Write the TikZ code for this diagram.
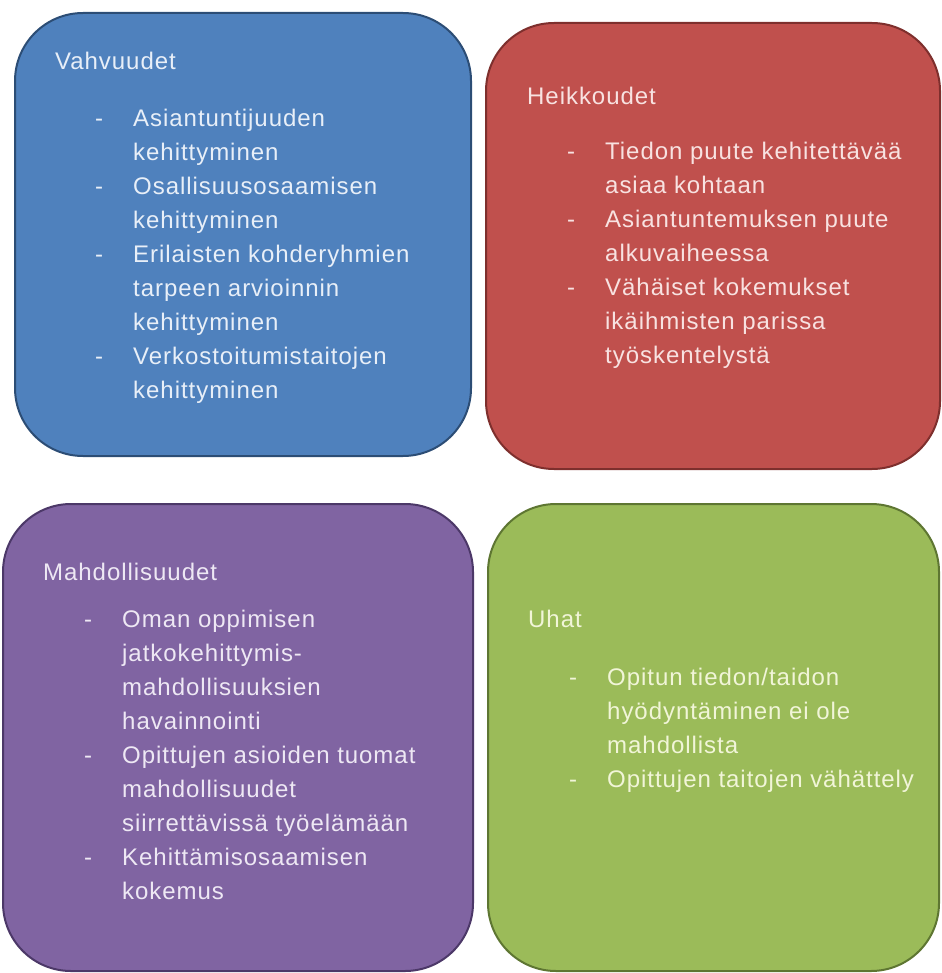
\documentclass[tikz,border=0pt]{standalone}
\usepackage{fontspec}
\setmainfont{Liberation Sans}[LetterSpace=4]

\definecolor{sfill}{HTML}{4F81BD}\definecolor{sline}{HTML}{2C4D75}\definecolor{stext}{HTML}{E8EFF8}
\definecolor{wfill}{HTML}{C0504D}\definecolor{wline}{HTML}{7E2F2D}\definecolor{wtext}{HTML}{F8E2E1}
\definecolor{ofill}{HTML}{8064A2}\definecolor{oline}{HTML}{4C3868}\definecolor{otext}{HTML}{EEE8F4}
\definecolor{tfill}{HTML}{9BBB59}\definecolor{tline}{HTML}{5E7632}\definecolor{ttext}{HTML}{F1F5D8}

% one list row with its dash, and a continued row indented to the same text column
\newcommand\dashrow[1]{\hbox{\makebox[38pt][l]{-}#1}}
\newcommand\carryrow[1]{\hbox{\hspace*{38pt}#1}}

\begin{document}
\begin{tikzpicture}[x=1pt,y=-1pt,
  quad/.style={draw, line width=2pt, rounded corners=68pt, anchor=north west,
               inner sep=0pt},
  txt/.style={anchor=base west, inner sep=0pt, font=\fontsize{24}{34}\selectfont}]

\useasboundingbox (0,0) rectangle (941,973);

% the four quadrants
\node[quad, fill=sfill, draw=sline, minimum width=456pt, minimum height=443pt]
  (strengths) at (14,12) {};
\node[quad, fill=wfill, draw=wline, minimum width=454pt, minimum height=446pt]
  (weaknesses) at (485,22) {};
\node[quad, fill=ofill, draw=oline, minimum width=470pt, minimum height=467pt]
  (opportunities) at (2,503) {};
\node[quad, fill=tfill, draw=tline, minimum width=451pt, minimum height=467pt]
  (threats) at (487,503) {};

% Vahvuudet
\node[txt, text=stext] (sTitle) at (55,70) {Vahvuudet};
\node[txt, text=stext] (sList) at (95,127) {\vtop{%
  \dashrow{Asiantuntijuuden}\carryrow{kehittyminen}%
  \dashrow{Osallisuusosaamisen}\carryrow{kehittyminen}%
  \dashrow{Erilaisten kohderyhmien}\carryrow{tarpeen arvioinnin}\carryrow{kehittyminen}%
  \dashrow{Verkostoitumistaitojen}\carryrow{kehittyminen}}};

% Heikkoudet
\node[txt, text=wtext] (wTitle) at (527,105) {Heikkoudet};
\node[txt, text=wtext] (wList) at (567,160) {\vtop{%
  \dashrow{Tiedon puute kehitettävää}\carryrow{asiaa kohtaan}%
  \dashrow{Asiantuntemuksen puute}\carryrow{alkuvaiheessa}%
  \dashrow{Vähäiset kokemukset}\carryrow{ikäihmisten parissa}\carryrow{työskentelystä}}};

% Mahdollisuudet
\node[txt, text=otext] (oTitle) at (43,580) {Mahdollisuudet};
\node[txt, text=otext] (oList) at (84,627) {\vtop{%
  \dashrow{Oman oppimisen}\carryrow{jatkokehittymis-}\carryrow{mahdollisuuksien}\carryrow{havainnointi}%
  \dashrow{Opittujen asioiden tuomat}\carryrow{mahdollisuudet}\carryrow{siirrettävissä työelämään}%
  \dashrow{Kehittämisosaamisen}\carryrow{kokemus}}};

% Uhat
\node[txt, text=ttext] (tTitle) at (528,627) {Uhat};
\node[txt, text=ttext] (tList) at (569,685) {\vtop{%
  \dashrow{Opitun tiedon/taidon}\carryrow{hyödyntäminen ei ole}\carryrow{mahdollista}%
  \dashrow{Opittujen taitojen vähättely}}};

\end{tikzpicture}
\end{document}
